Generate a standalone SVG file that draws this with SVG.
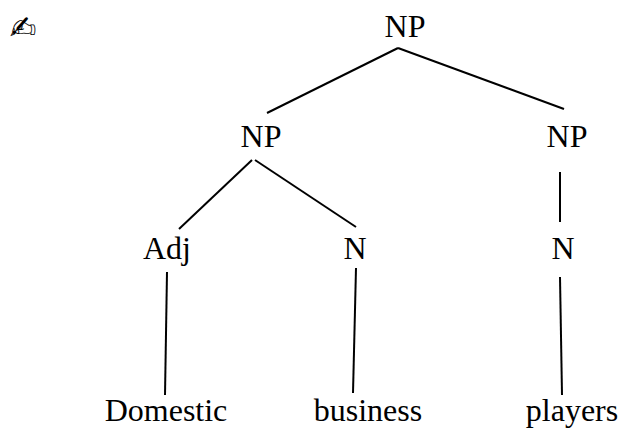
<svg xmlns="http://www.w3.org/2000/svg" width="620" height="428" viewBox="0 0 620 428">
<style>
text{font-family:"Liberation Serif","Times New Roman",serif;font-size:32px;fill:#000;text-anchor:middle}
line{stroke:#000;stroke-width:2;fill:none}
</style>
<rect width="620" height="428" fill="#fff"/>
<g id="connectors">
<line x1="398" y1="48" x2="267" y2="113"/>
<line x1="398" y1="48" x2="564" y2="109"/>
<line x1="252" y1="160" x2="179" y2="229"/>
<line x1="255" y1="160" x2="356" y2="227"/>
<line x1="560" y1="172" x2="560" y2="222"/>
<line x1="167" y1="272" x2="165" y2="395"/>
<line x1="356" y1="268" x2="353" y2="393"/>
<line x1="560" y1="277" x2="562" y2="395"/>
</g>
<g id="mark"><text x="23" y="39" style="font-family:'DejaVu Sans',sans-serif;font-size:32px">✍</text></g>
<g id="n1"><text x="405" y="37">NP</text></g>
<g id="n2"><text x="261" y="147">NP</text></g>
<g id="n3"><text x="567" y="147">NP</text></g>
<g id="n4"><text x="167" y="259">Adj</text></g>
<g id="n5"><text x="355" y="259">N</text></g>
<g id="n6"><text x="563" y="259">N</text></g>
<g id="n7"><text x="166" y="421">Domestic</text></g>
<g id="n8"><text x="368" y="421">business</text></g>
<g id="n9"><text x="572" y="421">players</text></g>
</svg>
